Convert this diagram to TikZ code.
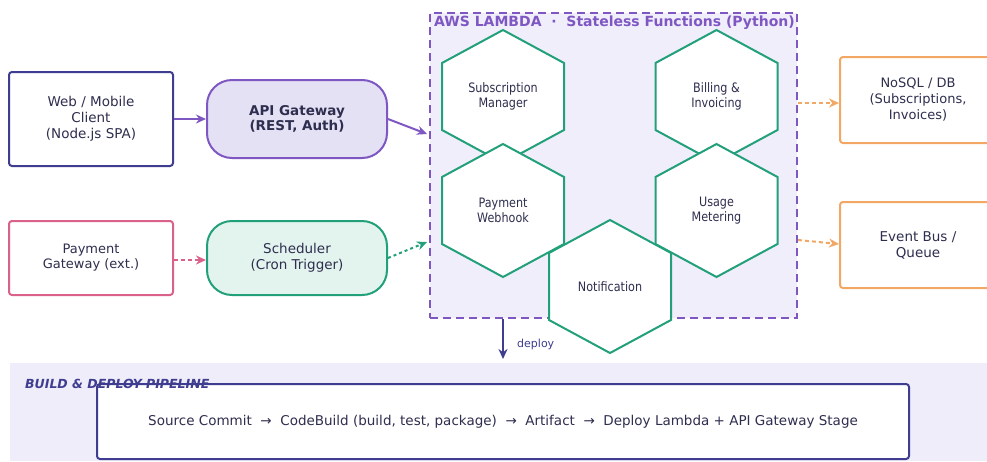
\documentclass[tikz,border=0pt]{standalone}
\usepackage{fontspec}
\setmainfont{DejaVu Sans}
\newfontfamily\condfont[FakeStretch=0.86]{DejaVu Sans}
\usetikzlibrary{arrows.meta}
\definecolor{navy}{HTML}{3F3D8F}
\definecolor{purp}{HTML}{7E57C2}
\definecolor{lav}{HTML}{E5E1F5}
\definecolor{lamfill}{HTML}{F0EEFB}
\definecolor{grn}{HTML}{22A07A}
\definecolor{grnfill}{HTML}{E3F4EE}
\definecolor{pnk}{HTML}{D9618A}
\definecolor{org}{HTML}{F2A864}
\definecolor{txt}{HTML}{2E2E4F}
\definecolor{band}{HTML}{EFEDFA}
\tikzset{
  box/.style={draw, line width=2pt, rounded corners=3pt, align=center, text=txt,
    font=\fontsize{13.5}{16}\selectfont},
  pill/.style={box, rounded corners=25pt},
  hexs/.style={draw=grn, line width=2pt, fill=white, line join=miter},
  hext/.style={align=center, text=txt, font=\condfont\fontsize{13}{15}\selectfont},
  arr/.style={line width=2pt, -{Stealth[length=10pt,width=9pt]}},
}
\newcommand{\hexagon}[3]{%
  \draw[hexs] (#1,#2-66.5) -- (#1+61,#2-33.5) -- (#1+61,#2+33.5) -- (#1,#2+66.5)
    -- (#1-61,#2+33.5) -- (#1-61,#2-33.5) -- cycle;
  \node[hext] (#3) at (#1,#2) {\csname hx#3\endcsname};}
\newcommand{\hxsub}{Subscription\\Manager}
\newcommand{\hxbill}{Billing \&\\Invoicing}
\newcommand{\hxpay}{Payment\\Webhook}
\newcommand{\hxuse}{Usage\\Metering}
\newcommand{\hxnot}{Notification}
\begin{document}
\begin{tikzpicture}[x=1pt,y=-1pt]
\useasboundingbox (0,0) rectangle (987,461);
\fill[white] (0,0) rectangle (987,461);
% lambda container
\node (lambda) [draw=purp, fill=lamfill, line width=2pt, dash pattern=on 8pt off 5pt,
  minimum width=367pt, minimum height=305pt, inner sep=0pt] at (613.5,165.5) {};
\node (ltitle) [anchor=west, text=purp, font=\bfseries\fontsize{14}{16}\selectfont, inner sep=0pt]
  at (434,23) {AWS LAMBDA~~·~~Stateless Functions (Python)};
% hexagons
\hexagon{503}{96.5}{sub}
\hexagon{716.5}{96.5}{bill}
\hexagon{503}{210.5}{pay}
\hexagon{716.5}{210.5}{use}
\hexagon{610}{286.5}{not}
% left nodes
\node (web) [box, draw=navy, minimum width=164pt, minimum height=94pt] at (91,119)
  {Web / Mobile\\Client\\(Node.js SPA)};
\node (api) [pill, draw=purp, fill=lav, minimum width=180pt, minimum height=78pt,
  font=\bfseries\fontsize{13.5}{15.5}\selectfont] at (297,119) {API Gateway\\(REST, Auth)};
\node (pgw) [box, draw=pnk, minimum width=164pt, minimum height=74pt,
  font=\fontsize{13}{15}\selectfont] at (91,258) {Payment\\Gateway (ext.)};
\node (sch) [pill, draw=grn, fill=grnfill, minimum width=180pt, minimum height=74pt] at (297,258)
  {Scheduler\\(Cron Trigger)};
% right nodes
\node (db) [box, draw=org, minimum width=156pt, minimum height=86pt,
  font=\fontsize{13}{16}\selectfont] at (918,100)
  {NoSQL / DB\\(Subscriptions,\\Invoices)};
\node (bus) [box, draw=org, minimum width=156pt, minimum height=86pt] at (918,245)
  {Event Bus /\\Queue};
% connectors
\coordinate (lin1) at (427,134);
\coordinate (lin2) at (427,242);
\coordinate (lout1) at (798,103);
\coordinate (lout2) at (798,240);
\draw[arr, purp] (web.east) -- (api.west);
\draw[arr, purp] (api.east) -- (lin1);
\draw[arr, pnk, dash pattern=on 4pt off 3pt] (pgw.east |- 0,260) -- (sch.west |- 0,260);
\draw[arr, grn, dash pattern=on 3pt off 3pt] (sch.east) -- (lin2);
\draw[arr, org, dash pattern=on 4pt off 3pt] (lout1) -- (db.west |- lout1);
\draw[arr, org, dash pattern=on 4pt off 3pt] (lout2) -- (db.west |- 0,244);
% pipeline
\fill[band] (10,363) rectangle (987,461);
\coordinate (dtop) at (503,319);
\coordinate (dbot) at (503,359);
\draw[arr, navy] (dtop) -- (dbot);
\node (dlab) [anchor=west, text=navy, font=\fontsize{11}{12}\selectfont, inner sep=0pt] at (517,344) {deploy};
\node (pipe) [box, draw=navy, fill=white, minimum width=812pt, minimum height=75pt] at (503,421.5)
  {Source Commit~~→~~CodeBuild (build, test, package)~~→~~Artifact~~→~~Deploy Lambda + API Gateway Stage};
\node (plab) [anchor=west, text=navy, font=\bfseries\itshape\fontsize{12.5}{13}\selectfont, inner sep=0pt]
  at (25,384) {BUILD \& DEPLOY PIPELINE};
\end{tikzpicture}
\end{document}
